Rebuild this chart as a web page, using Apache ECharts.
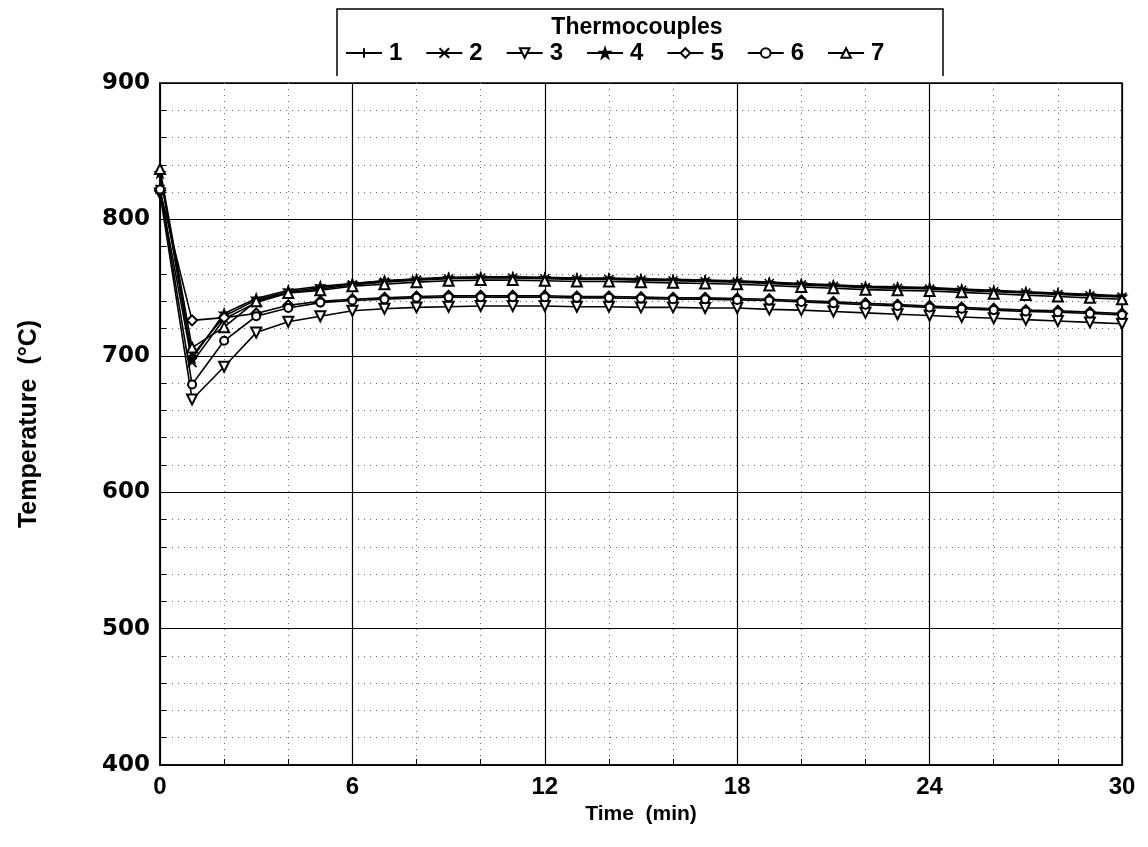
<!DOCTYPE html>
<html>
<head>
<meta charset="utf-8">
<script src="https://cdn.jsdelivr.net/npm/echarts@6/dist/echarts.min.js"></script>
<style>
html,body{margin:0;padding:0;background:#fff;}
#chart{width:1148px;height:847px;}
</style>
</head>
<body>
<div id="chart"></div>
<script>
const time = [0,1,2,3,4,5,6,7,8,9,10,11,12,13,14,15,16,17,18,19,20,21,22,23,24,25,26,27,28,29,30];
const tc1 = [835,700,729,741,747,750,753,755,756.5,757.5,758,758,757.5,757,757,756.5,756,755.5,755,754,753,752,751,750.5,750,749,748,747,746,745,744];
const tc2 = [822,695,727,739,746,749,752,754,755.5,756.5,757,757,756.5,756,756,755.5,755,754.5,754,753,752,751,750,749.5,749,748,747,746,745,744,743];
const tc3 = [819,668,692,717,725,729,733,734.5,735.5,736,736.5,736.5,736.5,736,736,735.5,735.5,735,735,734,733.5,732.5,731.5,730.5,729.5,728.5,727.5,726.5,725.5,724.5,723.5];
const tc4 = [834,698,731,742,748,751,753,755,756,757,757.5,757.5,757,756.5,756.5,756,755.5,755,754.5,753.5,752.5,751.5,750.5,750,749.5,748.5,747.5,746.5,745.5,744.5,743.5];
const tc5 = [821,726,728,731,737,740,741.5,742.5,743.5,744,744,744,744,743.5,743.5,743,742.5,742.5,742,741.5,740.5,739.5,738.5,737.5,736.5,735.5,734.5,733.5,733,732,731];
const tc6 = [822,679,711,729,735,739,740.5,741.5,742.5,743,743,743,743,742.5,742.5,742,741.5,741.5,741,740.5,739.5,738.5,737.5,736.5,735.5,734.5,733.5,732.5,732,731,730];
const tc7 = [837,706,721,740,746,748,751,752.5,754,755,755.5,755.5,755,754.5,754.5,754,753.5,753,752.5,751.5,750.5,749.5,748.5,748,747.5,746.5,745.5,744.5,743.5,742.5,741.5];
const seriesNames = ['1','2','3','4','5','6','7'];
const seriesData = [tc1,tc2,tc3,tc4,tc5,tc6,tc7];

const plus = 'path://M0,5L10,5M5,0L5,10';
const cross = 'path://M0,0L10,10M10,0L0,10';
const star = 'path://M5,0L6.2,3.3L10,3.3L7,5.5L8.2,9L5,6.8L1.8,9L3,5.5L0,3.3L3.8,3.3Z';
const symbols = [plus, cross, 'emptyTriangle', star, 'emptyDiamond', 'emptyCircle', 'emptyTriangle'];
const rotates = [0,0,180,0,0,0,0];
const sizes = [10,9,10,9,10,8,10];

const chart = echarts.init(document.getElementById('chart'));
const font = 'Liberation Sans, Arial, sans-serif';
const wide = '"DejaVu Sans", "Liberation Sans", sans-serif';
chart.setOption({
  animation:false,
  backgroundColor:'#fff',
  graphic:[
    {type:'polyline', shape:{points:[[337,76],[337,9],[943,9],[943,76]]}, style:{stroke:'#000', lineWidth:1.5, fill:null}},
    {type:'text', x:637, y:28, style:{text:'Thermocouples', font:'bold 23px '+font, fill:'#000', align:'center', verticalAlign:'middle'}}
  ],
  legend:{
    data:seriesNames,
    left:340, top:36,
    itemWidth:36, itemHeight:12, itemGap:23,
    textStyle:{fontSize:24, fontWeight:'bold', color:'#000', fontFamily:font, padding:[0,0,0,2]}
  },
  grid:{left:160, top:83, right:26, bottom:82, show:true, borderColor:'#000', borderWidth:1.5},
  xAxis:{
    type:'value', min:0, max:30, interval:6,
    name:'Time  (min)', nameLocation:'middle', nameGap:36,
    nameTextStyle:{fontSize:21, fontWeight:'bold', color:'#000', fontFamily:font},
    axisLine:{lineStyle:{color:'#000', width:1.5}},
    axisTick:{inside:true, length:6, lineStyle:{color:'#000'}},
    minorTick:{show:true, splitNumber:3, length:6, lineStyle:{color:'#000'}},
    axisLabel:{fontSize:24, fontWeight:'bold', color:'#000', fontFamily:font, margin:10},
    splitLine:{show:true, lineStyle:{color:'#000', width:1.2}},
    minorSplitLine:{show:true, lineStyle:{color:'#666', width:1, type:[1,5]}}
  },
  yAxis:{
    type:'value', min:400, max:900, interval:100,
    name:'Temperature  (°C)', nameLocation:'middle', nameGap:118, nameRotate:90,
    nameTextStyle:{fontSize:25, fontWeight:'bold', color:'#000', fontFamily:font},
    axisLine:{lineStyle:{color:'#000', width:1.5}},
    axisTick:{inside:true, length:6, lineStyle:{color:'#000'}},
    minorTick:{show:true, splitNumber:5, length:6, lineStyle:{color:'#000'}},
    axisLabel:{fontSize:23, fontWeight:'bold', color:'#000', fontFamily:wide, margin:10},
    splitLine:{show:true, lineStyle:{color:'#000', width:1.2}},
    minorSplitLine:{show:true, lineStyle:{color:'#666', width:1, type:[1,5]}}
  },
  series: seriesNames.map((n,i)=>({
    name:n, type:'line',
    data: time.map((t,j)=>[t, seriesData[i][j]]),
    symbol: symbols[i], symbolRotate: rotates[i], symbolSize: sizes[i],
    showAllSymbol:true,
    lineStyle:{color:'#000', width:1.6},
    itemStyle:{color:'#000', borderColor:'#000', borderWidth:1.5},
    emphasis:{disabled:true}
  }))
});
</script>
</body>
</html>
